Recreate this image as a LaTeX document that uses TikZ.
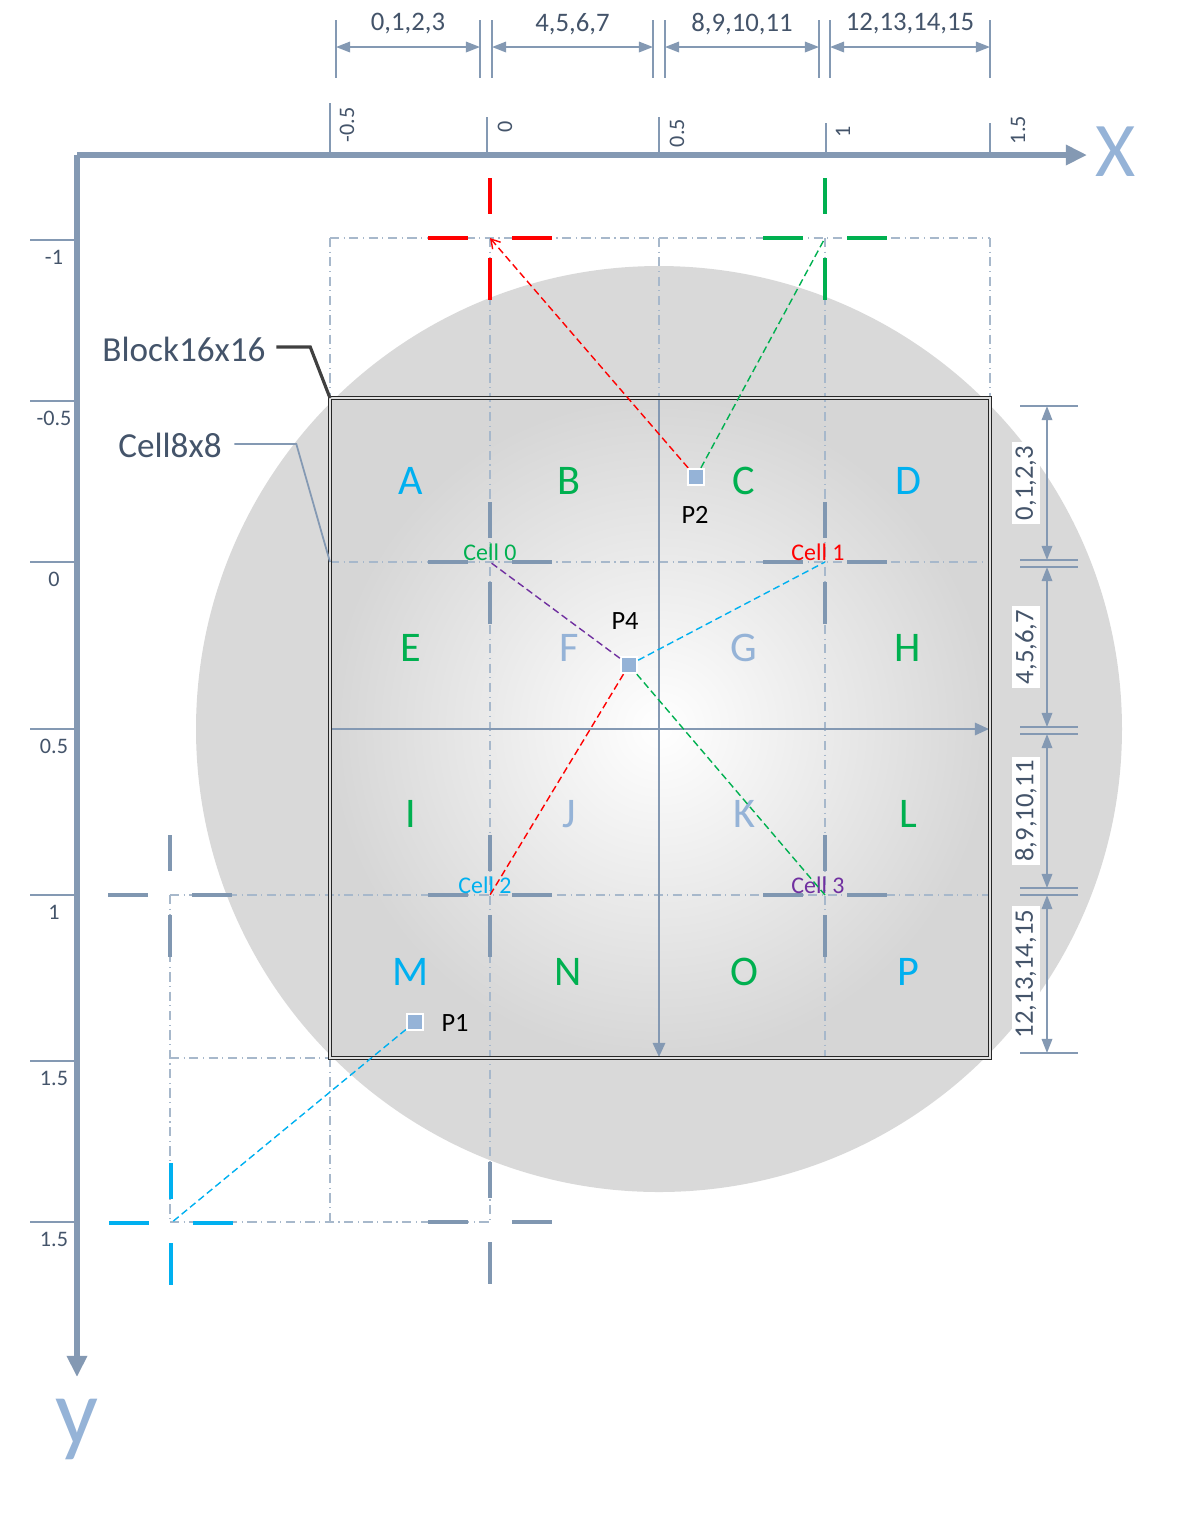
\documentclass[tikz,border=0pt]{standalone}
\usepackage{fontspec}
\setmainfont{Carlito}
\usetikzlibrary{arrows.meta}

\definecolor{axisc}{HTML}{8499B3}
\definecolor{labc}{HTML}{44546A}
\definecolor{gridc}{HTML}{A7B8CB}
\definecolor{crossc}{HTML}{8097B1}
\definecolor{cyanc}{HTML}{00B0F0}
\definecolor{greenc}{HTML}{00B050}
\definecolor{palec}{HTML}{95B3D7}
\definecolor{purplec}{HTML}{7030A0}
\definecolor{redc}{HTML}{FF0000}
\definecolor{discgray}{HTML}{D9D9D9}

\tikzset{
  axisline/.style={draw=axisc, line width=1.5pt, -{Triangle[length=6pt,width=5.5pt]}},
  innerarrow/.style={draw=axisc, line width=0.6pt, -{Triangle[length=4pt,width=3.5pt]}},
  extline/.style={draw=axisc, line width=0.35pt},
  dimline/.style={draw=axisc, line width=0.45pt, {Triangle[length=4pt,width=3pt]}-{Triangle[length=4pt,width=3pt]}},
  guide/.style={draw=gridc, line width=0.4pt, dash pattern=on 2.6pt off 1.3pt on 0.3pt off 1.3pt},
  crossbar/.style={line width=0.9pt},
  ray/.style={line width=0.4pt, dash pattern=on 2pt off 1.1pt},
  ticklab/.style={text=labc, font=\fontsize{6.3}{7}\selectfont, inner sep=0pt},
  dimlab/.style={text=labc, font=\fontsize{7.6}{9}\selectfont, inner sep=1pt},
  letter/.style={font=\fontsize{12}{13}\selectfont},
  celllab/.style={font=\fontsize{6.8}{8}\selectfont, inner sep=0pt},
  callout/.style={text=labc, font=\fontsize{10}{12}\selectfont, inner sep=0pt},
  ptbox/.style={draw=white, fill=palec, line width=0.6pt, minimum size=4.6pt, inner sep=0pt},
  ptlab/.style={font=\fontsize{7.5}{9}\selectfont, text=black, inner sep=0pt},
}

\begin{document}
\begin{tikzpicture}[x=0.01cm,y=-0.01cm]
\useasboundingbox (0,0) rectangle (1194,1529);

% disc and block
\fill[discgray] (659,729) circle (463);
\shade[inner color=white, outer color=black!16] (330,398) rectangle (990,1058);

% main axes
\coordinate (origin) at (77,155);
\node[text=palec, font=\fontsize{22}{24}\selectfont, inner sep=0pt] (xlab) at (1116,152) {X};
\node[text=palec, font=\fontsize{27}{28}\selectfont, inner sep=0pt] (ylab) at (77,1429) {y};
\coordinate (xend) at (1087,155);
\coordinate (yend) at (77,1377);
\draw[axisline] (origin) -- (xend);
\draw[axisline] (origin) -- (yend);

% ticks on X
\foreach \x/\top/\lx/\ly/\lab in {330/103/347/125/-0.5, 487/117/505/127/0, 659/117/677/133/0.5, 826/123/843/132/1, 990/123/1018/130/1.5}{
  \draw[extline] (\x,\top) -- (\x,155);
  \node[ticklab, rotate=90] at (\lx,\ly) {\lab};
}
% ticks on y
\foreach \y/\lab in {240/-1, 401/-0.5, 562/0, 729/0.5, 895/1, 1061/1.5, 1222/1.5}{
  \draw[extline] (30,\y) -- (77,\y);
  \node[ticklab] at (54,\y+17) {\lab};
}

% dimensions on top
\foreach \x in {336,480,492,653,665,819,830,990}
  \draw[extline] (\x,20) -- (\x,78);
\foreach \a/\b/\lab in {336/480/{0,1,2,3}, 492/653/{4,5,6,7}, 665/819/{8,9,10,11}, 830/990/{12,13,14,15}}{
  \draw[dimline] (\a,47) -- (\b,47);
  \node[dimlab] at ({(\a+\b)/2},24) {\lab};
}

% dimensions on the right
\foreach \y in {406,560,567,727,734,888,895,1053}
  \draw[extline] (1020,\y) -- (1078,\y);
\foreach \a/\b/\lab in {406/560/{0,1,2,3}, 567/727/{4,5,6,7}, 734/888/{8,9,10,11}, 895/1053/{12,13,14,15}}{
  \draw[dimline] (1047,\a) -- (1047,\b);
  \node[dimlab, rotate=90, fill=white] at (1026,{(\a+\b)/2}) {\lab};
}

% guide lines
\draw[guide] (330,238) -- (990,238);
\draw[guide] (330,238) -- (330,398);
\draw[guide] (659,238) -- (659,398);
\draw[guide] (990,238) -- (990,398);
\draw[guide] (490,238) -- (490,1222);
\draw[guide] (825,238) -- (825,1058);
\draw[guide] (330,562) -- (990,562);
\draw[guide] (170,895) -- (990,895);
\draw[guide] (170,895) -- (170,1222);
\draw[guide] (170,1058) -- (330,1058);
\draw[guide] (330,1058) -- (330,1222);
\draw[guide] (170,1222) -- (490,1222);

% cross marks
\foreach \cx/\cy/\cc in {490/238/redc, 825/238/greenc, 490/562/crossc, 825/562/crossc,
    490/895/crossc, 825/895/crossc, 170/895/crossc, 490/1222/crossc, 171/1223/cyanc}{
  \draw[crossbar, \cc] (\cx-62,\cy) -- (\cx-22,\cy) (\cx+22,\cy) -- (\cx+62,\cy)
    (\cx,\cy-60) -- (\cx,\cy-24) (\cx,\cy+20) -- (\cx,\cy+62);
}

% inner axes and block frame
\draw[innerarrow] (330,729) -- (989,729);
\draw[innerarrow] (659,398) -- (659,1057);
\draw[draw=black!85, line width=0.35pt, double=black!12, double distance=0.7pt] (330,398) rectangle (990,1058);

% letters
\foreach \lx/\ly/\lc/\lt in {411/481/cyanc/A, 569/481/greenc/B, 744/481/greenc/C, 908/481/cyanc/D,
    411/648/greenc/E, 569/648/palec/F, 744/648/palec/G, 908/648/greenc/H,
    411/814/greenc/I, 569/814/palec/J, 744/814/palec/K, 908/814/greenc/L,
    411/972/cyanc/M, 568/972/greenc/N, 744/972/greenc/O, 908/972/cyanc/P}
  \node[letter, text=\lc] at (\lx,\ly) {\lt};

% reference corners
\coordinate (cell0) at (490,562);
\coordinate (cell1) at (825,562);
\coordinate (cell2) at (490,895);
\coordinate (cell3) at (825,895);
\coordinate (refR) at (490,238);
\coordinate (refG) at (825,238);
\coordinate (refB) at (171,1223);
\node[celllab, text=greenc] (lab0) at (490,552) {Cell 0};
\node[celllab, text=redc] (lab1) at (818,552) {Cell 1};
\node[celllab, text=cyanc] (lab2) at (485,885) {Cell 2};
\node[celllab, text=purplec] (lab3) at (818,885) {Cell 3};

% sample points
\node[ptbox] (p1) at (415,1022) {};
\node[ptbox] (p2) at (696,477) {};
\node[ptbox] (p4) at (629,665) {};
\node[ptlab] (p1lab) at (455,1023) {P1};
\node[ptlab] (p2lab) at (695,515) {P2};
\node[ptlab] (p4lab) at (625,621) {P4};

\draw[ray, purplec] (p4) -- (cell0);
\draw[ray, cyanc] (p4) -- (cell1);
\draw[ray, redc] (p4) -- (cell2);
\draw[ray, greenc] (p4) -- (cell3);
\draw[ray, redc, -{Straight Barb[length=2.5pt,width=3pt]}] (p2) -- (refR);
\draw[ray, greenc] (p2) -- (refG);
\draw[ray, cyanc] (p1) -- (refB);

% callouts
\coordinate (blockNW) at (330,398);
\coordinate (blockW) at (330,562);
\node[callout] (blocklab) at (184,349) {Block16x16};
\node[callout] (celllab) at (170,445) {Cell8x8};
\draw[black!75, line width=0.9pt] (blocklab.east) ++(10,-2) -- ++(34,0) -- (blockNW);
\draw[axisc, line width=0.5pt] (celllab.east) ++(12,-1) -- ++(62,0) -- (blockW);
\end{tikzpicture}
\end{document}
